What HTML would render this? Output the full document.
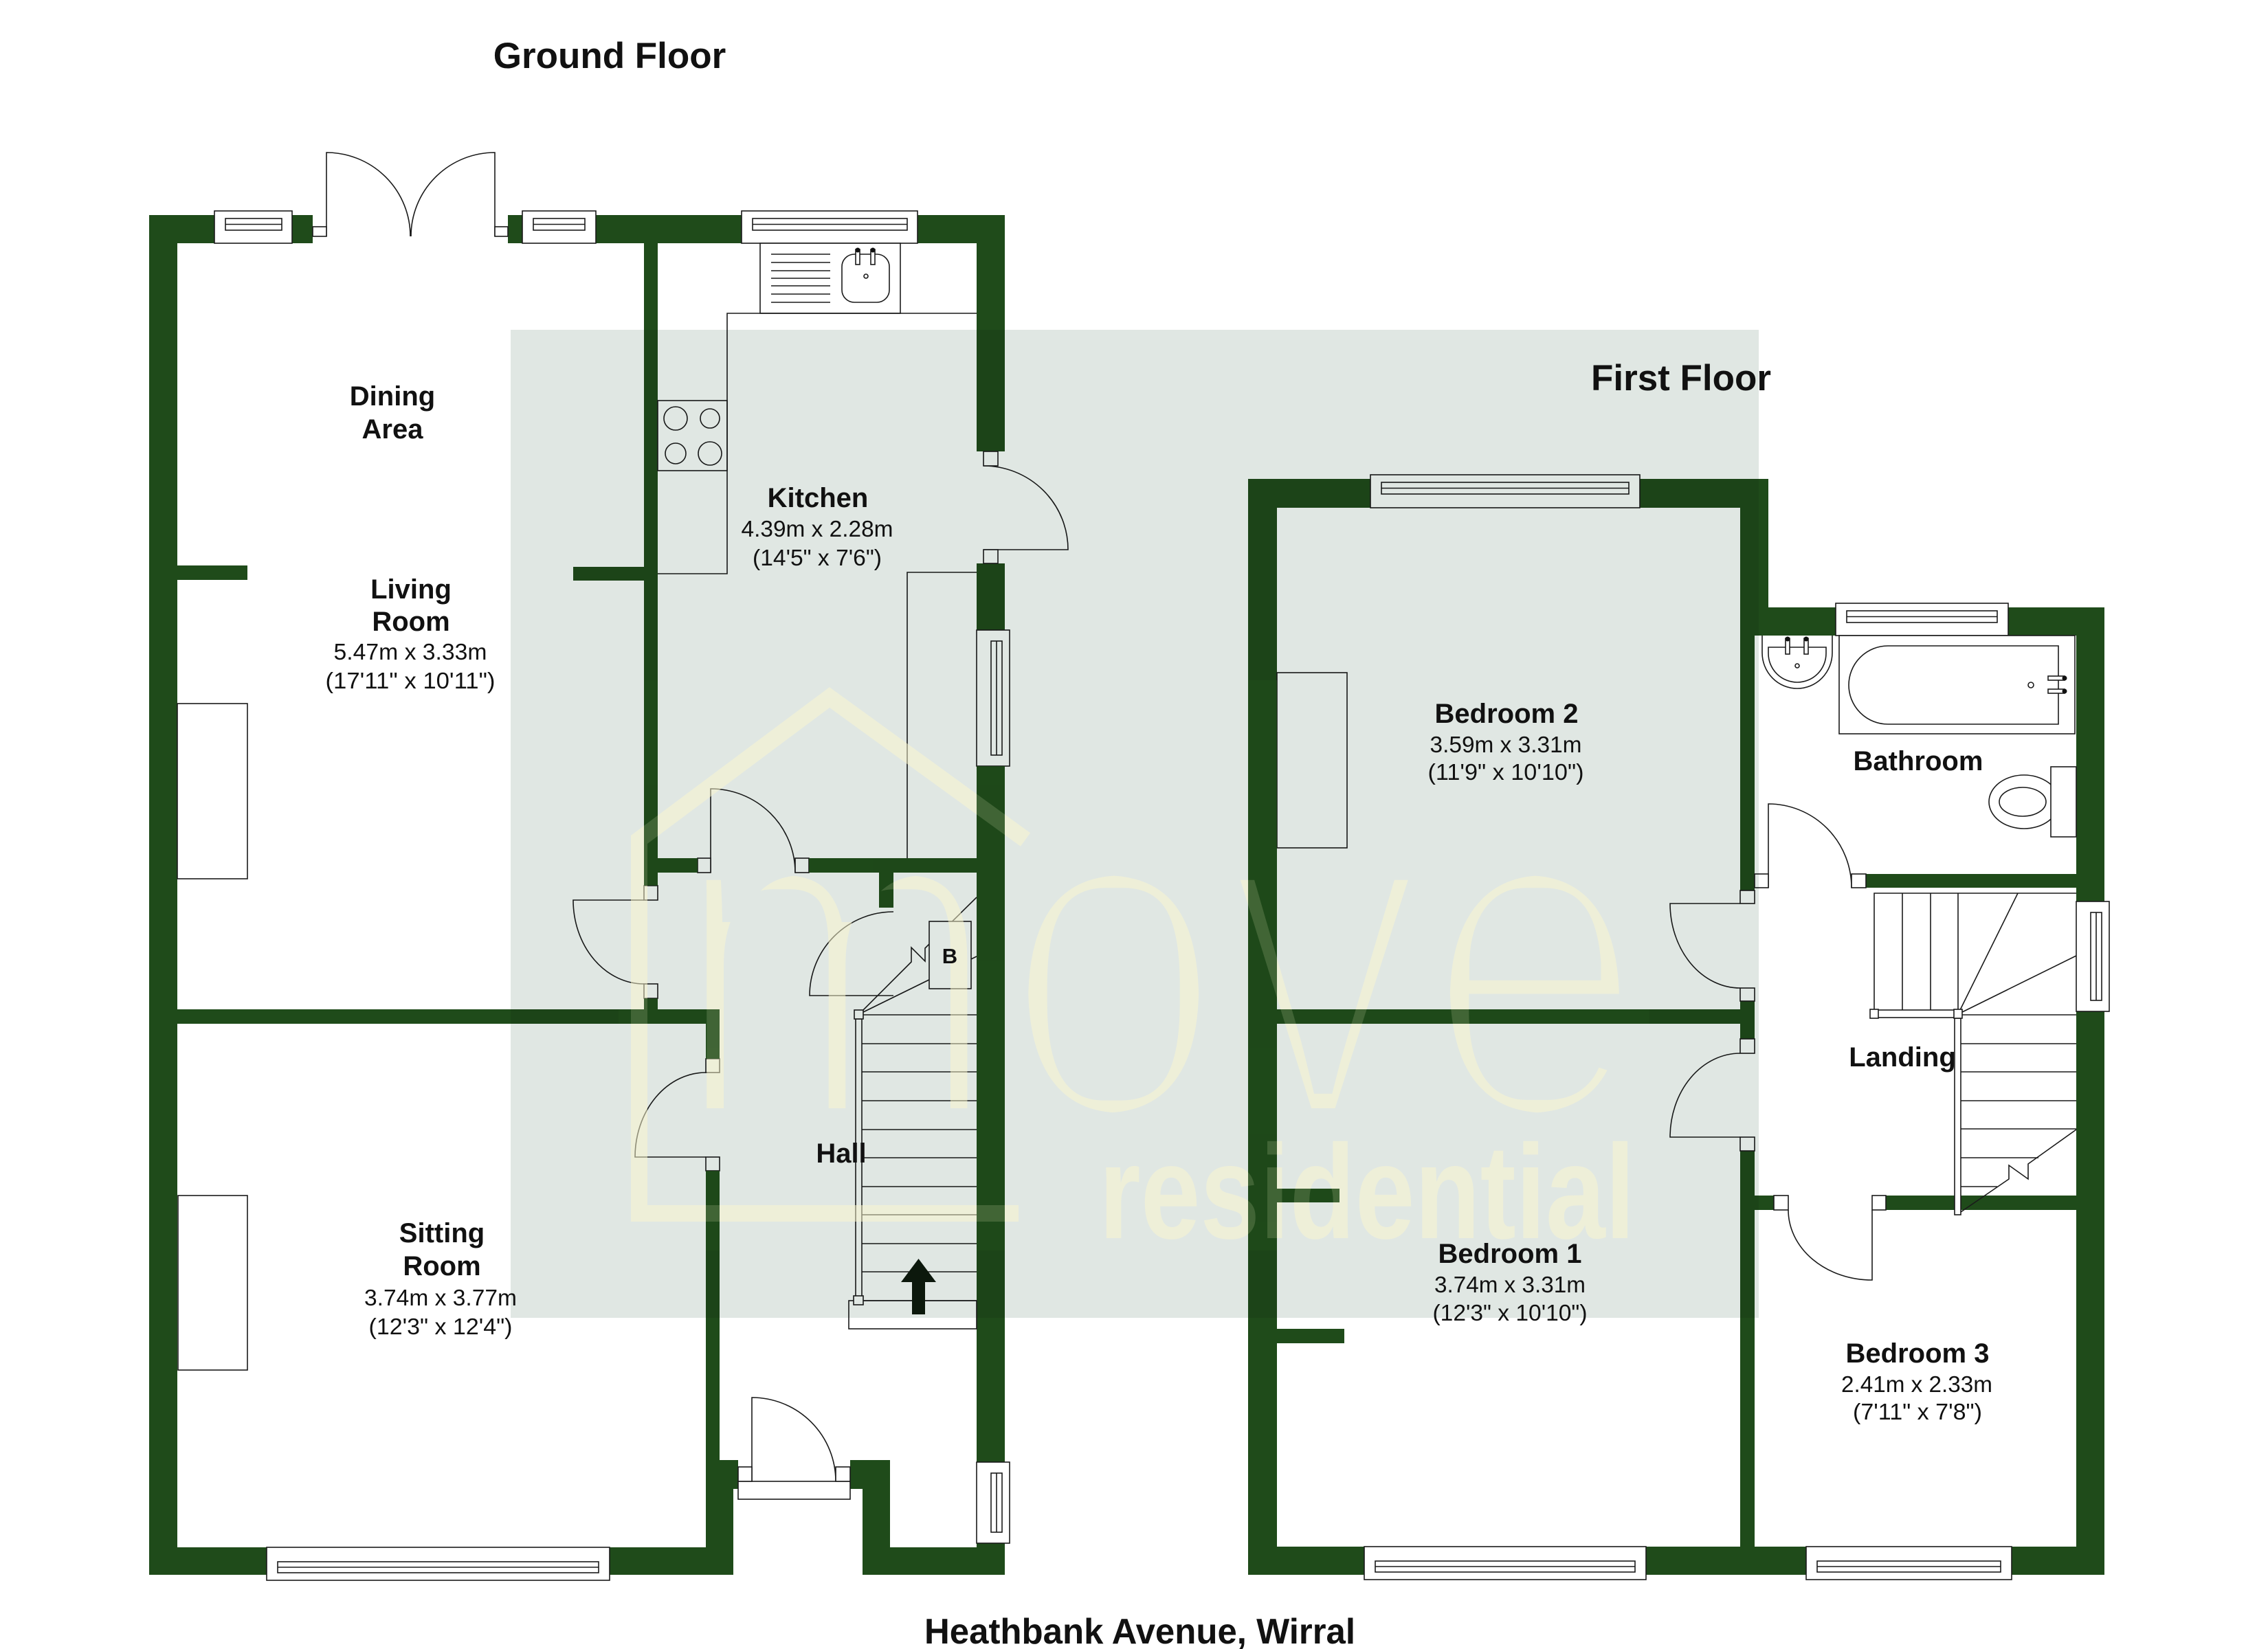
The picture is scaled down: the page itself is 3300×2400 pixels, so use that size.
<!DOCTYPE html>
<html><head><meta charset="utf-8"><style>
html,body{margin:0;padding:0;background:#fff;}
svg{display:block;}
text{font-family:"Liberation Sans",Arial,sans-serif;fill:#111;}
.b{font-weight:bold;font-size:40px;text-anchor:middle;}
.r{font-size:33px;text-anchor:middle;}
.t{font-weight:bold;font-size:53px;text-anchor:middle;}
</style></head><body>
<svg xmlns="http://www.w3.org/2000/svg" width="3300" height="2400" viewBox="0 0 3300 2400">
<defs>
<filter id="thin" x="-5%" y="-10%" width="110%" height="120%"><feMorphology operator="erode" radius="13"/></filter>
<clipPath id="wm"><rect x="900" y="990" width="1500" height="830"/></clipPath>
</defs>
<rect width="3300" height="2400" fill="#fff"/>

<g id="walls" fill="#1f4b1a">
<rect x="217" y="313" width="95" height="41"/>
<rect x="425" y="313" width="30" height="41"/>
<rect x="739" y="313" width="21" height="41"/>
<rect x="867" y="313" width="212" height="41"/>
<rect x="1335" y="313" width="127" height="41"/>
<rect x="217" y="313" width="41" height="1979"/>
<rect x="1421" y="313" width="41" height="344"/>
<rect x="1421" y="820" width="41" height="97"/>
<rect x="1421" y="1115" width="41" height="1013"/>
<rect x="1421" y="2246" width="41" height="46"/>
<rect x="217" y="2252" width="171" height="40"/>
<rect x="887" y="2252" width="180" height="40"/>
<rect x="1255" y="2252" width="207" height="40"/>
<rect x="937" y="354" width="20" height="935"/>
<rect x="937" y="1453" width="20" height="16"/>
<rect x="957" y="1249" width="58" height="21"/>
<rect x="1177" y="1249" width="244" height="21"/>
<rect x="1279" y="1270" width="21" height="51"/>
<rect x="258" y="823" width="102" height="21"/>
<rect x="834" y="825" width="103" height="20"/>
<rect x="258" y="1469" width="789" height="21"/>
<rect x="1027" y="1490" width="20" height="51"/>
<rect x="1027" y="1704" width="20" height="548"/>
<rect x="1047" y="2125" width="27" height="42"/>
<rect x="1047" y="2167" width="20" height="85"/>
<rect x="1237" y="2125" width="58" height="42"/>
<rect x="1255" y="2167" width="40" height="85"/>

<rect x="1816" y="697" width="178" height="42"/>
<rect x="2386" y="697" width="187" height="42"/>
<rect x="1816" y="697" width="42" height="1595"/>
<rect x="2532" y="697" width="41" height="228"/>
<rect x="2573" y="884" width="98" height="41"/>
<rect x="2922" y="884" width="140" height="41"/>
<rect x="3021" y="884" width="41" height="428"/>
<rect x="3021" y="1472" width="41" height="820"/>
<rect x="1816" y="2251" width="169" height="41"/>
<rect x="2395" y="2251" width="233" height="41"/>
<rect x="2927" y="2251" width="135" height="41"/>
<rect x="2532" y="925" width="21" height="371"/>
<rect x="2532" y="1457" width="21" height="55"/>
<rect x="2532" y="1675" width="21" height="576"/>
<rect x="1858" y="1469" width="674" height="21"/>
<rect x="1858" y="1730" width="91" height="20"/>
<rect x="1858" y="1934" width="98" height="21"/>
<rect x="2715" y="1272" width="306" height="20"/>
<rect x="2553" y="1740" width="28" height="21"/>
<rect x="2744" y="1740" width="277" height="21"/>
</g>

<!-- windows -->
<g fill="#fff" stroke="#1a1a1a" stroke-width="1.6">
<rect x="312" y="307" width="113" height="47"/><rect x="328" y="318" width="82" height="17"/><line x1="328" y1="326.5" x2="410" y2="326.5"/>
<rect x="760" y="307" width="107" height="47"/><rect x="776" y="318" width="75" height="17"/><line x1="776" y1="326.5" x2="851" y2="326.5"/>
<rect x="1079" y="307" width="256" height="47"/><rect x="1095" y="318" width="225" height="17"/><line x1="1095" y1="326.5" x2="1320" y2="326.5"/>
<rect x="388" y="2252" width="499" height="48"/><rect x="404" y="2273" width="467" height="16"/><line x1="404" y1="2281" x2="871" y2="2281"/>
<rect x="1421" y="917" width="48" height="198"/><rect x="1442" y="933" width="16" height="166"/><line x1="1450" y1="933" x2="1450" y2="1099"/>
<rect x="1421" y="2128" width="48" height="118"/><rect x="1442" y="2144" width="16" height="86"/><line x1="1450" y1="2144" x2="1450" y2="2230"/>
<rect x="1994" y="691" width="392" height="48"/><rect x="2010" y="702" width="360" height="17"/><line x1="2010" y1="710.5" x2="2370" y2="710.5"/>
<rect x="2671" y="878" width="251" height="47"/><rect x="2687" y="889" width="219" height="17"/><line x1="2687" y1="897.5" x2="2906" y2="897.5"/>
<rect x="3021" y="1312" width="48" height="160"/><rect x="3042" y="1328" width="16" height="128"/><line x1="3050" y1="1328" x2="3050" y2="1456"/>
<rect x="1985" y="2251" width="410" height="48"/><rect x="2001" y="2272" width="378" height="16"/><line x1="2001" y1="2280" x2="2379" y2="2280"/>
<rect x="2628" y="2251" width="299" height="48"/><rect x="2644" y="2272" width="267" height="16"/><line x1="2644" y1="2280" x2="2911" y2="2280"/>
</g>

<!-- fixtures -->
<g fill="#fff" stroke="#1a1a1a" stroke-width="1.6">
<rect x="1106" y="354" width="204" height="102"/>
<rect x="1225" y="370" width="69" height="70" rx="18"/>
<rect x="1245" y="363" width="6" height="22"/><rect x="1267" y="363" width="6" height="22"/>
<circle cx="1260" cy="402" r="3"/>
<rect x="957" y="583" width="101" height="102"/>
<circle cx="983" cy="609" r="17"/><circle cx="1033" cy="609" r="14"/><circle cx="983" cy="660" r="15"/><circle cx="1033" cy="660" r="17"/>
<rect x="258" y="1024" width="102" height="255" fill="none"/>
<rect x="259" y="1740" width="101" height="254" fill="none"/>
<rect x="1858" y="979" width="102" height="255" fill="none"/>
<rect x="1074" y="2156" width="163" height="26"/>
<rect x="1235" y="1893" width="186" height="41"/>
<!-- bathroom -->
<path d="M2564,925 V950 A51,52 0 0 0 2666,950 V925"/>
<path d="M2573,942 H2657 V951 A42,42 0 0 1 2573,951 Z"/>
<rect x="2598" y="929" width="6" height="23"/><rect x="2625" y="929" width="6" height="23"/>
<circle cx="2615" cy="969" r="3"/>
<rect x="2676" y="925" width="343" height="143"/>
<path d="M2747,940 H2995 V1054 H2747 A57,57 0 0 1 2747,940 Z"/>
<rect x="2980" y="984" width="24" height="6"/><rect x="2980" y="1003" width="24" height="6"/>
<circle cx="2955" cy="997" r="4"/>
<ellipse cx="2945" cy="1167" rx="51" ry="39"/>
<ellipse cx="2943" cy="1167" rx="34" ry="21"/>
<rect x="2984" y="1116" width="37" height="102"/>
</g>
<g fill="#111">
<circle cx="1248" cy="364" r="3.5"/><circle cx="1270" cy="364" r="3.5"/>
<circle cx="2601" cy="930" r="3.5"/><circle cx="2628" cy="930" r="3.5"/>
<circle cx="3004" cy="987" r="3.5"/><circle cx="3004" cy="1006" r="3.5"/>
</g>
<g fill="none" stroke="#1a1a1a" stroke-width="1.6">
<line x1="1122" y1="370" x2="1208" y2="370"/><line x1="1122" y1="382" x2="1208" y2="382"/><line x1="1122" y1="394" x2="1208" y2="394"/><line x1="1122" y1="405" x2="1208" y2="405"/><line x1="1122" y1="416" x2="1208" y2="416"/><line x1="1122" y1="428" x2="1208" y2="428"/><line x1="1122" y1="440" x2="1208" y2="440"/>
<polyline points="1421,456 1058,456 1058,835 957,835"/>
<polyline points="1421,833 1320,833 1320,1249"/>
<!-- doors -->
<path d="M475,344 V222 A122,122 0 0 1 597,344"/>
<path d="M720,344 V222 A122,122 0 0 0 598,344"/>
<path d="M1431,800 H1554 A123,122 0 0 0 1431,678"/>
<path d="M937,1310 H834 A103,122 0 0 0 937,1432"/>
<path d="M1034,1270 V1148 A123,122 0 0 1 1157,1270"/>
<path d="M1027,1684 H924 A103,123 0 0 1 1027,1561"/>
<path d="M1300,1449 H1178 A122,122 0 0 1 1300,1327"/>
<path d="M1094,2156 V2034 A122,122 0 0 1 1216,2156"/>
<path d="M2573,1292 V1170 A121,122 0 0 1 2694,1292"/>
<path d="M2532,1315 H2430 A102,123 0 0 0 2532,1438"/>
<path d="M2532,1655 H2430 A102,122 0 0 1 2532,1533"/>
<path d="M2724,1761 V1863 A122,102 0 0 1 2602,1761"/>
<!-- ground stairs -->
<line x1="1254" y1="1477" x2="1421" y2="1477"/><line x1="1254" y1="1519" x2="1421" y2="1519"/><line x1="1254" y1="1560" x2="1421" y2="1560"/><line x1="1254" y1="1602" x2="1421" y2="1602"/><line x1="1254" y1="1644" x2="1421" y2="1644"/><line x1="1254" y1="1685" x2="1421" y2="1685"/><line x1="1254" y1="1727" x2="1421" y2="1727"/><line x1="1254" y1="1768" x2="1421" y2="1768"/><line x1="1254" y1="1810" x2="1421" y2="1810"/><line x1="1254" y1="1851" x2="1421" y2="1851"/><line x1="1254" y1="1893" x2="1421" y2="1893"/>
<line x1="1250" y1="1476" x2="1421" y2="1392"/>
<polyline points="1250,1476 1326,1400 1326,1379 1346,1399 1346,1380 1421,1306"/>
<!-- first floor stairs -->
<polyline points="2727,1470 2727,1300 3021,1300"/>
<line x1="2768" y1="1300" x2="2768" y2="1470"/><line x1="2809" y1="1300" x2="2809" y2="1470"/><line x1="2849" y1="1300" x2="2849" y2="1470"/>
<line x1="2849" y1="1476" x2="2936" y2="1300"/>
<line x1="2849" y1="1476" x2="3021" y2="1391"/>
<line x1="2855" y1="1477" x2="3021" y2="1477"/>
<line x1="2853" y1="1519" x2="3021" y2="1519"/><line x1="2853" y1="1560" x2="3021" y2="1560"/><line x1="2853" y1="1602" x2="3021" y2="1602"/><line x1="2853" y1="1643" x2="3021" y2="1643"/>
<line x1="2853" y1="1685" x2="2966" y2="1685"/><line x1="2853" y1="1727" x2="2906" y2="1727"/>
<polyline points="3021,1644 2951,1694 2951,1716 2923,1696 2923,1716 2853,1764"/>
</g>
<g fill="#fff" stroke="#1a1a1a" stroke-width="1.6">
<rect x="1352" y="1341" width="61" height="98"/>
<rect x="1245" y="1483" width="9" height="410"/>
<rect x="1243" y="1470" width="13" height="13"/>
<rect x="1242" y="1886" width="14" height="13"/>
<rect x="2727" y="1470" width="122" height="11"/>
<rect x="2721" y="1469" width="12" height="13"/>
<rect x="2844" y="1482" width="9" height="286"/>
<rect x="2843" y="1469" width="12" height="13"/>
<!-- jambs -->
<rect x="455" y="330" width="20" height="14"/><rect x="720" y="330" width="19" height="14"/>
<rect x="1431" y="657" width="21" height="21"/><rect x="1431" y="800" width="21" height="20"/>
<rect x="937" y="1289" width="20" height="21"/><rect x="937" y="1432" width="20" height="21"/>
<rect x="1015" y="1249" width="19" height="21"/><rect x="1157" y="1249" width="20" height="21"/>
<rect x="1027" y="1541" width="20" height="20"/><rect x="1027" y="1684" width="20" height="20"/>
<rect x="1074" y="2135" width="20" height="21"/><rect x="1216" y="2135" width="21" height="21"/>
<rect x="2553" y="1272" width="20" height="20"/><rect x="2694" y="1272" width="21" height="20"/>
<rect x="2532" y="1296" width="21" height="19"/><rect x="2532" y="1438" width="21" height="19"/>
<rect x="2532" y="1512" width="21" height="21"/><rect x="2532" y="1655" width="21" height="20"/>
<rect x="2581" y="1740" width="21" height="21"/><rect x="2724" y="1740" width="20" height="21"/>
</g>
<!-- arrow -->
<g fill="#0d1a0d">
<rect x="1327" y="1862" width="19" height="51"/>
<polygon points="1311,1866 1336.5,1832 1362,1866"/>
</g>

<!-- grey overlay -->
<rect x="743" y="480" width="1816" height="1438" fill="#e0e7e3" style="mix-blend-mode:multiply"/>

<!-- watermark -->
<g opacity="0.52">
<polyline points="1492,1222 1207,1015 930,1222 930,1766 1482,1766" fill="none" stroke="#fcf8cf" stroke-width="24" stroke-linejoin="miter"/>
<text x="975" y="1626" font-size="678" style="fill:#fcf8cf" textLength="1420" lengthAdjust="spacingAndGlyphs" filter="url(#thin)">move</text>
<text x="1599" y="1802" font-size="195" font-weight="bold" style="fill:#fcf8cf" textLength="780" lengthAdjust="spacingAndGlyphs">residential</text>
</g>
<use href="#walls" opacity="0.7" clip-path="url(#wm)"/>

<!-- text -->
<text class="t" x="887" y="99">Ground Floor</text>
<text class="t" x="2446" y="568">First Floor</text>
<text x="1345" y="2392" style="font-weight:bold;font-size:52px" textLength="627" lengthAdjust="spacingAndGlyphs">Heathbank Avenue, Wirral</text>

<text class="b" x="571" y="590">Dining</text>
<text class="b" x="571" y="638">Area</text>
<text class="b" x="598" y="871">Living</text>
<text class="b" x="598" y="918">Room</text>
<text class="r" x="597" y="960" textLength="223" lengthAdjust="spacingAndGlyphs">5.47m x 3.33m</text>
<text class="r" x="597" y="1002" textLength="247" lengthAdjust="spacingAndGlyphs">(17'11" x 10'11")</text>

<text class="b" x="1190" y="738">Kitchen</text>
<text class="r" x="1189" y="781" textLength="221" lengthAdjust="spacingAndGlyphs">4.39m x 2.28m</text>
<text class="r" x="1189" y="823" textLength="188" lengthAdjust="spacingAndGlyphs">(14'5" x 7'6")</text>

<text class="b" x="1224" y="1692">Hall</text>
<text x="1382" y="1402" style="font-weight:bold;font-size:31px;text-anchor:middle">B</text>

<text class="b" x="643" y="1808">Sitting</text>
<text class="b" x="643" y="1856">Room</text>
<text class="r" x="641" y="1900" textLength="222" lengthAdjust="spacingAndGlyphs">3.74m x 3.77m</text>
<text class="r" x="641" y="1942" textLength="209" lengthAdjust="spacingAndGlyphs">(12'3" x 12'4")</text>

<text class="b" x="2192" y="1052">Bedroom 2</text>
<text class="r" x="2191" y="1095" textLength="221" lengthAdjust="spacingAndGlyphs">3.59m x 3.31m</text>
<text class="r" x="2191" y="1135" textLength="227" lengthAdjust="spacingAndGlyphs">(11'9" x 10'10")</text>

<text class="b" x="2791" y="1121">Bathroom</text>
<text class="b" x="2768" y="1552">Landing</text>

<text class="b" x="2197" y="1838">Bedroom 1</text>
<text class="r" x="2197" y="1881" textLength="220" lengthAdjust="spacingAndGlyphs">3.74m x 3.31m</text>
<text class="r" x="2197" y="1922" textLength="225" lengthAdjust="spacingAndGlyphs">(12'3" x 10'10")</text>

<text class="b" x="2790" y="1983">Bedroom 3</text>
<text class="r" x="2789" y="2026" textLength="220" lengthAdjust="spacingAndGlyphs">2.41m x 2.33m</text>
<text class="r" x="2790" y="2066" textLength="188" lengthAdjust="spacingAndGlyphs">(7'11" x 7'8")</text>
</svg>
</body></html>
